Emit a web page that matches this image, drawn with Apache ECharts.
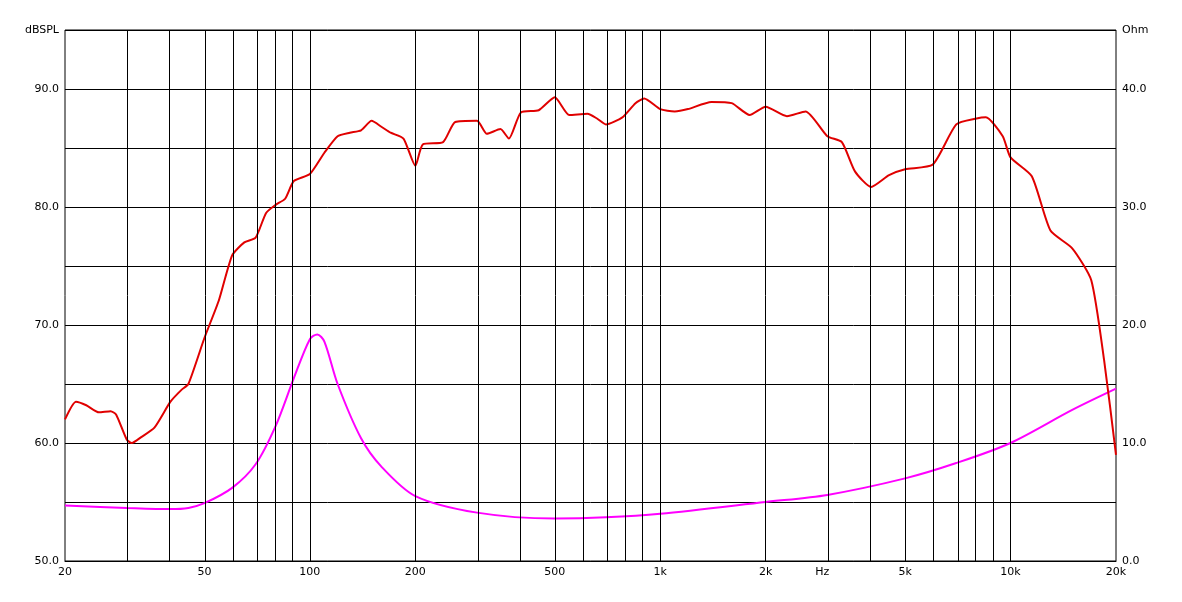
<!DOCTYPE html>
<html><head><meta charset="utf-8">
<script src="https://cdn.jsdelivr.net/npm/echarts@6/dist/echarts.min.js"></script>
<style>html,body{margin:0;background:#fff}#c{width:1182px;height:602px}</style>
</head><body><div id="c"></div>
<script>
const splFreq=[20,21.5,23,25,27,28,30,31,33,36,40,43,45,50,55,60,65,70,75,80,85,90,100,110,120,130,140,150,160,170,185,200,210,240,260,300,320,350,370,400,450,500,550,620,660,700,780,850,900,1000,1100,1200,1400,1600,1800,2000,2300,2600,3000,3300,3600,4000,4500,5000,6000,7000,8000,8500,9500,10000,11500,13000,15000,17000,18500,20000];
const spl=[62,63.5,63.2,62.6,62.7,62.4,60.3,60.0,60.5,61.3,63.5,64.5,65,68.9,72.1,75.9,77.0,77.4,79.5,80.2,80.7,82.2,82.8,84.6,86.0,86.3,86.5,87.3,86.8,86.3,85.8,83.5,85.3,85.5,87.2,87.3,86.2,86.6,85.8,88.0,88.2,89.3,87.8,87.9,87.5,87.0,87.6,88.8,89.2,88.3,88.1,88.3,88.9,88.8,87.8,88.5,87.7,88.1,86.0,85.5,83.0,81.7,82.7,83.2,83.6,87.0,87.5,87.6,86.0,84.2,82.6,78.0,76.5,73.8,67.0,59.0];
const impFreq=[20,30,40,45,50,60,70,80,90,100,105,110,120,140,160,200,300,500,700,1000,2000,3000,5000,7000,10000,15000,20000];
const imp=[4.7,4.5,4.4,4.5,4.9,6.2,8.2,11.5,15.5,18.8,19.2,18.6,15.0,10.4,8.0,5.5,4.1,3.6,3.7,4.0,5.0,5.6,7.0,8.3,10.0,12.8,14.6];
const gridFreqs=[30,40,50,60,70,80,90,100,200,300,400,500,600,700,800,900,1000,2000,3000,4000,5000,6000,7000,8000,9000,10000];
const xLabelFreqs=[20,50,100,200,500,1000,2000,2900,5000,10000,20000];
const xLabelText=['20','50','100','200','500','1k','2k','Hz','5k','10k','20k'];
const L=Math.log10;
const font={fontFamily:'DejaVu Sans',fontSize:11,color:'#000'};
const chart=echarts.init(document.getElementById('c'));
chart.setOption({
 animation:false,
 grid:{left:65,right:66,top:30,bottom:41,show:true,borderColor:'#000',borderWidth:1},
 xAxis:{type:'value',min:L(20),max:L(20000),splitLine:{show:false},axisTick:{show:false},
  axisLine:{lineStyle:{color:'#000'}},
  axisLabel:Object.assign({customValues:xLabelFreqs.map(L),formatter:v=>{const i=xLabelFreqs.findIndex(f=>Math.abs(L(f)-v)<1e-6);return i>=0?xLabelText[i]:'';},margin:6},font)},
 yAxis:[
  {type:'value',min:50,max:95,interval:5,axisTick:{show:false},axisLine:{show:false},
   splitLine:{lineStyle:{color:'#000',width:1}},
   axisLabel:Object.assign({formatter:v=>v===95?'dBSPL':(v%10===0?v.toFixed(1):''),margin:6},font)},
  {type:'value',min:0,max:45,interval:5,axisTick:{show:false},axisLine:{show:false},splitLine:{show:false},
   axisLabel:Object.assign({formatter:v=>v===45?'Ohm':(v%10===0?v.toFixed(1):''),margin:6},font)}
 ],
 series:[
  {type:'line',symbol:'none',data:[],markLine:{silent:true,symbol:'none',label:{show:false},lineStyle:{color:'#000',width:1,type:'solid'},data:gridFreqs.map(f=>({xAxis:L(f)}))}},
  {type:'line',yAxisIndex:1,symbol:'none',smooth:0.3,lineStyle:{color:'#ff00ff',width:2},data:impFreq.map((f,i)=>[L(f),imp[i]])},
  {type:'line',symbol:'none',smooth:0.2,lineStyle:{color:'#e00000',width:2},data:splFreq.map((f,i)=>[L(f),spl[i]])}
 ]
});
</script></body></html>
